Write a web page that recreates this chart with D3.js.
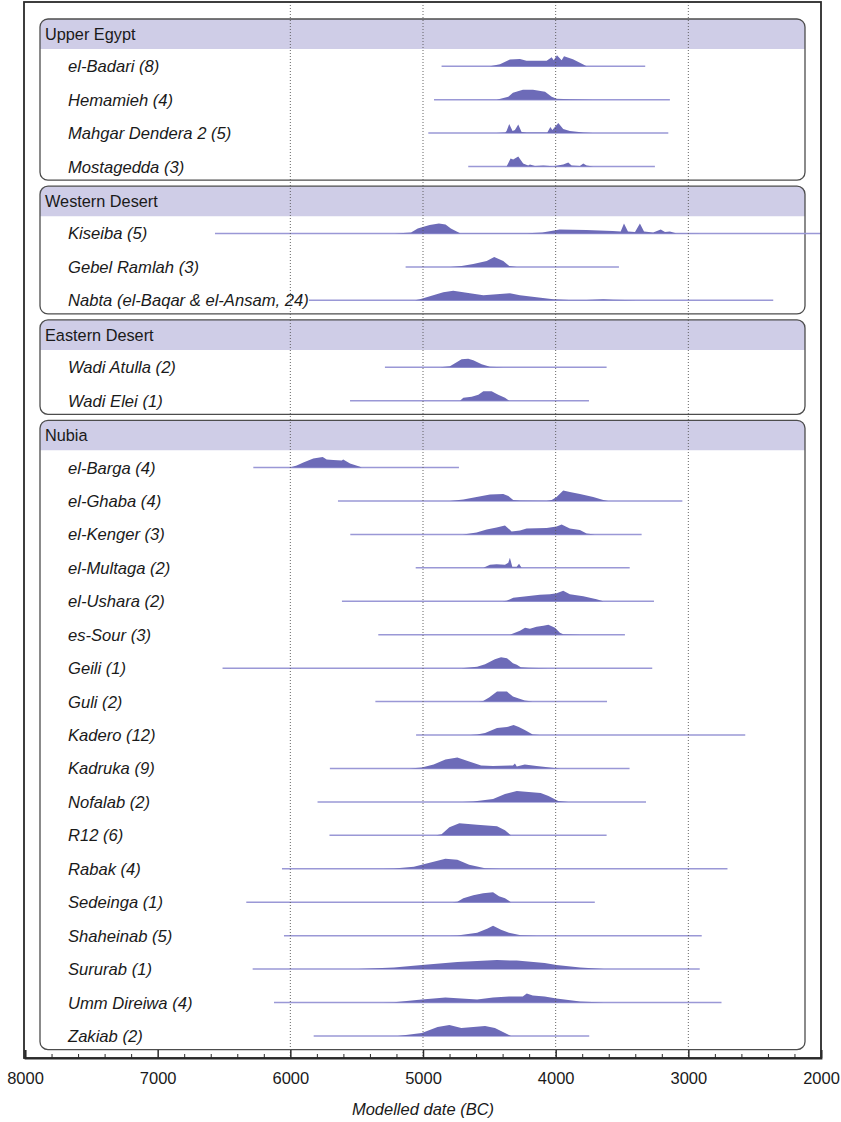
<!DOCTYPE html>
<html>
<head>
<meta charset="utf-8">
<script src="https://cdn.jsdelivr.net/npm/d3@7"></script>
<style>
  body { margin: 0; background: #fff; }
  svg { font-family: "Liberation Sans", Arial, sans-serif; }
</style>
</head>
<body>
<svg id="chart" width="841" height="1122"></svg>
<script>
// ── data: site names, modelled range [start, end] BC, density profile [year BC, height] ──
const groupNames = ["Upper Egypt", "Western Desert", "Eastern Desert", "Nubia"];

const upperEgyptSites = ["el-Badari (8)", "Hemamieh (4)", "Mahgar Dendera 2 (5)", "Mostagedda (3)"];
const upperEgyptRanges = [[4860, 3325], [4917, 3139], [4960, 3151], [4659, 3252]];
const upperEgyptProfiles = [
  [[4495,0],[4420,2],[4345,6.7],[4269,7.3],[4220,5.5],[4068,5.5],[4030,9],[4015,6],[3990,11],[3955,6],[3937,10],[3870,7],[3795,2],[3767,0]],
  [[4445,0],[4357,3],[4322,7],[4247,10],[4171,10],[4080,8],[4030,3],[3993,1],[3892,0.5],[3720,0]],
  [[4445,0],[4380,0.5],[4370,2],[4350,9],[4325,2],[4307,3],[4282,8.5],[4257,1],[4220,0.5],[4063,0.5],[4040,6],[4025,3],[3980,10],[3943,4],[3893,2],[3792,0.5],[3720,0]],
  [[4370,0],[4340,8],[4320,7],[4282,10],[4245,3],[4207,1],[4194,2],[4156,0.5],[4093,1],[4018,0.3],[3943,2],[3905,4],[3880,1],[3817,0.5],[3792,3],[3767,1],[3717,0]]
];

const westernDesertSites = ["Kiseiba (5)", "Gebel Ramlah (3)", "Nabta (el-Baqar & el-Ansam, 24)"];
const westernDesertRanges = [[6568, 2000], [5131, 3523], [5860, 2360]];
const westernDesertProfiles = [
  [[5211,0],[5090,1],[5040,5],[4950,8.5],[4880,10],[4830,9],[4790,5],[4746,2],[4720,0.3],[4216,0.3],[4100,1],[3970,4],[3770,3.5],[3570,2.5],[3510,2],[3485,10],[3455,2],[3402,1.5],[3365,10],[3334,2],[3265,1],[3208,4],[3176,1.5],[3139,2],[3093,0.3],[2897,0]],
  [[4790,0],[4709,1],[4621,3],[4520,6],[4463,10],[4395,6],[4350,1],[4294,0]],
  [[5060,0],[5023,1],[4923,5],[4847,8],[4772,9.5],[4646,7],[4545,5],[4445,6],[4345,7],[4269,5],[4144,3],[4018,1],[3900,0.3],[3767,0.3],[3641,1],[3566,0.5],[3390,0]]
];

const easternDesertSites = ["Wadi Atulla (2)", "Wadi Elei (1)"];
const easternDesertRanges = [[5287, 3616], [5550, 3749]];
const easternDesertProfiles = [
  [[4870,0],[4797,1],[4759,4],[4709,8],[4659,8.5],[4621,7],[4558,3],[4495,0.5],[4395,0]],
  [[4721,0],[4696,3],[4633,4],[4583,6],[4545,9.5],[4483,9.5],[4433,6],[4382,3],[4350,0]]
];

const nubiaSites = ["el-Barga (4)", "el-Ghaba (4)", "el-Kenger (3)", "el-Multaga (2)", "el-Ushara (2)", "es-Sour (3)",
  "Geili (1)", "Guli (2)", "Kadero (12)", "Kadruka (9)", "Nofalab (2)", "R12 (6)", "Rabak (4)", "Sedeinga (1)",
  "Shaheinab (5)", "Sururab (1)", "Umm Direiwa (4)", "Zakiab (2)"];
const nubiaRanges = [[6279, 4729], [5641, 3045], [5548, 3352], [5055, 3442], [5611, 3259], [5337, 3478],
  [6511, 3272], [5359, 3613], [5052, 2571], [5702, 3443], [5795, 3319], [5705, 3616], [6063, 2705], [6332, 3705],
  [6048, 2899], [6284, 2914], [6123, 2750], [5824, 3747]];
const nubiaProfiles = [
  [[6003,0],[5952,2],[5902,5],[5827,9],[5756,10.5],[5726,8],[5676,7.5],[5613,7],[5601,8],[5550,4],[5480,1],[5462,0]],
  [[4797,0],[4696,1.5],[4596,4],[4495,6.5],[4395,7],[4357,5],[4320,1],[4269,0.5],[4068,0.3],[4030,1],[3993,4],[3943,10.5],[3893,9],[3817,7],[3717,4],[3641,1],[3604,0]],
  [[4700,0],[4671,0.5],[4596,2],[4520,5],[4445,7],[4382,9],[4332,3],[4269,4],[4219,6],[4068,6.5],[3993,8],[3955,10],[3893,6],[3817,4.5],[3767,1],[3704,0]],
  [[4545,0],[4495,3],[4445,3.5],[4382,3],[4357,5],[4345,10],[4327,1],[4294,1],[4276,4],[4257,0]],
  [[4400,0],[4370,0.5],[4320,3.5],[4219,5],[4119,6.5],[4043,7],[3993,8],[3943,10.5],[3893,7],[3792,5],[3692,2],[3641,0]],
  [[4345,0],[4269,4],[4231,7],[4194,6],[4144,8],[4093,9],[4055,10],[4005,7],[3968,2],[3943,0.5],[3817,0]],
  [[4711,0],[4592,1.5],[4532,4],[4458,9],[4412,11],[4367,10],[4322,5],[4293,3.5],[4263,1],[4203,0.5],[4054,0]],
  [[4580,0],[4547,0.5],[4502,4],[4442,10],[4367,10],[4322,5],[4278,3],[4233,1],[4173,0]],
  [[4640,0],[4592,0.5],[4532,2],[4442,7],[4367,8],[4317,10],[4278,8],[4233,5],[4173,0.5],[4120,0]],
  [[5100,0],[5009,1],[4920,4],[4831,9],[4741,11],[4652,7],[4562,3],[4472,2.5],[4322,3],[4307,5],[4293,2],[4233,4],[4144,2.5],[4009,0.5],[3964,0]],
  [[4700,0],[4621,0.3],[4472,3],[4382,8],[4293,11],[4203,10],[4113,9],[4054,6],[3980,1],[3905,0]],
  [[4900,0],[4860,1],[4801,8],[4726,12],[4592,10.5],[4442,9],[4382,5],[4337,0]],
  [[5300,0],[5219,0.3],[5069,2],[4950,6],[4831,10],[4741,9],[4652,4],[4532,0.5],[4412,0]],
  [[4780,0],[4741,0.5],[4696,4],[4621,7],[4547,9],[4472,10],[4427,6],[4382,4],[4337,0]],
  [[4800,0],[4741,0.3],[4592,3],[4517,7],[4472,10],[4412,6],[4352,3],[4263,0.5],[4144,0]],
  [[5487,0],[5219,1.5],[5009,4],[4741,7],[4442,9],[4293,8.5],[4083,6],[3994,4],[3815,1.5],[3636,0]],
  [[5300,0],[5219,0.3],[5009,3],[4831,5],[4711,4],[4592,3],[4472,5],[4352,6],[4248,6],[4218,9],[4173,7],[4083,6],[3994,4],[3815,1],[3636,0]],
  [[5189,0],[5009,3],[4890,9],[4801,11],[4711,8],[4621,9],[4532,10],[4458,8],[4382,3],[4337,0]]
];

const groupSites    = [upperEgyptSites, westernDesertSites, easternDesertSites, nubiaSites];
const groupRanges   = [upperEgyptRanges, westernDesertRanges, easternDesertRanges, nubiaRanges];
const groupProfiles = [upperEgyptProfiles, westernDesertProfiles, easternDesertProfiles, nubiaProfiles];

const xMajor = d3.range(2000, 8001, 1000);
const xMinor = d3.range(2000, 8001, 200).filter(v => v % 1000 !== 0);

// ── layout ─────────────────────────────────────────────
const PLOT_L = 25, PLOT_R = 821, PLOT_T = 2, PLOT_B = 1058;
const BOX_L = 40, BOX_R = 805;
const HEAD_H = 30;
const LINE_OFF = 13.8;   // row line below slot top
const FILL = "#6d6bb8";
const LINE = "#9a98d6";

const svg = d3.select("#chart");

const x = d3.scaleLinear().domain([8000, 2000]).range([PLOT_L, PLOT_R]);
const nSlots = groupSites.reduce((s, g) => s + g.length + 1, 0);
const y = d3.scaleLinear().domain([0, nSlots]).range([19, 19 + nSlots * 33.44]);
const h = d3.scaleLinear().domain([0, 12]).range([0, 12]);

// top-rounded rectangle for header band
function topRounded(x0, y0, w, hh, r) {
  return `M${x0},${y0 + hh} V${y0 + r} Q${x0},${y0} ${x0 + r},${y0} H${x0 + w - r} Q${x0 + w},${y0} ${x0 + w},${y0 + r} V${y0 + hh} Z`;
}

const boxLayer  = svg.append("g");
const markLayer = svg.append("g");
const gridLayer = svg.append("g");
const textLayer = svg.append("g");

const area = d3.area()
  .x(d => x(d[0]))
  .y0(d => d.base)
  .y1(d => d.base - h(d[1]));

let slot = 0;
groupNames.forEach((gName, gi) => {
  const sites = groupSites[gi];
  const top = y(slot);
  const bottom = y(slot + sites.length + 1) - 6;

  boxLayer.append("path")
    .attr("d", topRounded(BOX_L, top, BOX_R - BOX_L, HEAD_H, 8))
    .attr("fill", "#cfcde7");
  boxLayer.append("rect")
    .attr("x", BOX_L).attr("y", top)
    .attr("width", BOX_R - BOX_L).attr("height", bottom - top)
    .attr("rx", 8)
    .attr("fill", "none")
    .attr("stroke", "#4d4d4d")
    .attr("stroke-width", 1.3);

  textLayer.append("text")
    .attr("x", BOX_L + 5).attr("y", top + 21)
    .attr("font-size", 16.3).attr("fill", "#1a1a1a")
    .text(gName);

  sites.forEach((site, si) => {
    const ly = y(slot + 1 + si) + LINE_OFF;
    const rng = groupRanges[gi][si];

    markLayer.append("line")
      .attr("x1", x(rng[0])).attr("x2", x(rng[1]))
      .attr("y1", ly).attr("y2", ly)
      .attr("stroke", LINE).attr("stroke-width", 1.5);

    const prof = groupProfiles[gi][si].map(p => { const q = p.slice(); q.base = ly; return q; });
    markLayer.append("path")
      .attr("d", area(prof))
      .attr("fill", FILL);

    textLayer.append("text")
      .attr("x", 68).attr("y", ly + 6)
      .attr("font-size", 16.6).attr("font-style", "italic").attr("fill", "#1a1a1a")
      .text(site);
  });

  slot += sites.length + 1;
});

// dotted gridlines
gridLayer.selectAll("line")
  .data([6000, 5000, 4000, 3000])
  .join("line")
  .attr("x1", d => x(d)).attr("x2", d => x(d))
  .attr("y1", PLOT_T).attr("y2", PLOT_B)
  .attr("stroke", "#555")
  .attr("stroke-width", 0.9)
  .attr("stroke-dasharray", "1,2");

// frame
svg.append("rect")
  .attr("x", PLOT_L - 1).attr("y", PLOT_T)
  .attr("width", PLOT_R - PLOT_L + 1).attr("height", PLOT_B - PLOT_T)
  .attr("fill", "none")
  .attr("stroke", "#2a2a2a")
  .attr("stroke-width", 1.8);

// ── axis ─────────────────────────────────────────────
const axisMajor = d3.axisBottom(x)
  .tickValues(xMajor)
  .tickSize(-8)
  .tickPadding(14)
  .tickFormat(d3.format("d"));

const axG = svg.append("g").attr("transform", `translate(0,${PLOT_B})`).call(axisMajor);
axG.select(".domain").attr("stroke", "#2a2a2a").attr("stroke-width", 1.8);
axG.selectAll(".tick line").attr("stroke", "#2a2a2a").attr("stroke-width", 1.5);
axG.selectAll(".tick text")
  .attr("font-size", 16.5)
  .attr("font-family", "\"Liberation Sans\", Arial, sans-serif")
  .attr("fill", "#1a1a1a");

const axMinor = svg.append("g").attr("transform", `translate(0,${PLOT_B})`)
  .call(d3.axisBottom(x).tickValues(xMinor).tickSize(-4).tickFormat(""));
axMinor.select(".domain").remove();
axMinor.selectAll(".tick line").attr("stroke", "#2a2a2a").attr("stroke-width", 1);

svg.append("text")
  .attr("x", x(5000)).attr("y", 1115)
  .attr("text-anchor", "middle")
  .attr("font-size", 16.5).attr("font-style", "italic").attr("fill", "#1a1a1a")
  .text("Modelled date (BC)");
</script>
</body>
</html>
